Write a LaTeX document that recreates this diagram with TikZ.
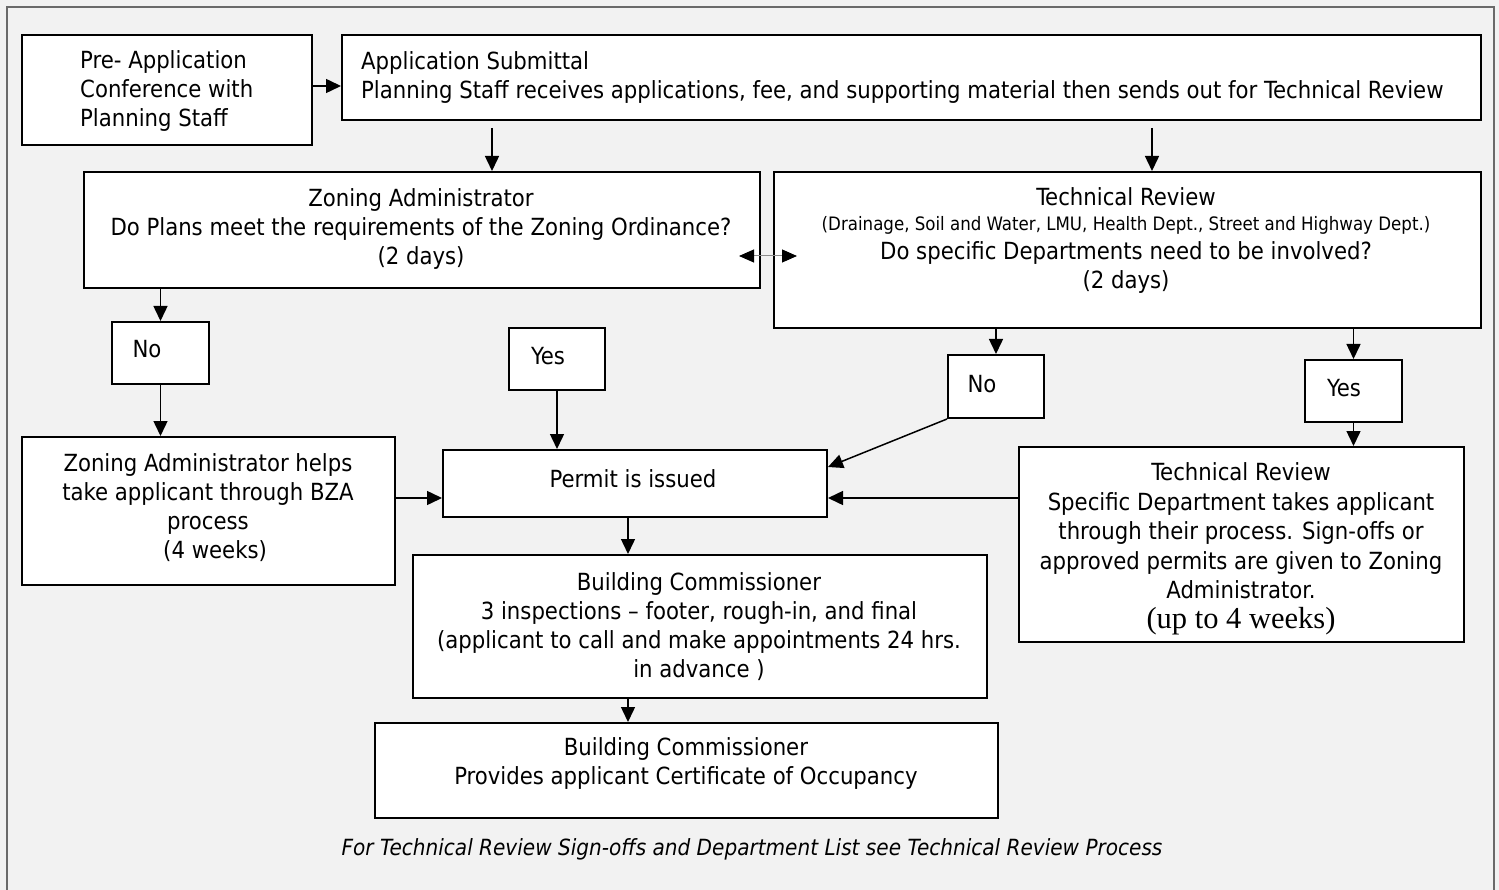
\documentclass[tikz,border=0pt]{standalone}
\usepackage{fontspec}
\setmainfont{DejaVuSansCondensed}[Extension=.ttf, ItalicFont=DejaVuSansCondensed-Oblique, BoldFont=DejaVuSansCondensed-Bold]
\newfontfamily\timesfont{Liberation Serif}
\usetikzlibrary{arrows.meta}
\definecolor{pagebg}{HTML}{F2F2F2}
\definecolor{framegray}{HTML}{6A6A6A}

% box given by its corners: name, x1, y1, x2, y2
\newcommand\flowbox[5]{\node[box, minimum width={#4-#2}, minimum height={#5-#3}] (#1) at (#2,#3) {};}

\begin{document}
\begin{tikzpicture}[x=1pt, y=-1pt,
  box/.style={draw, line width=2pt, fill=white, inner sep=0pt, anchor=north west},
  txt/.style={inner sep=0pt, font=\fontsize{23.6}{29}\selectfont},
  arr/.style={line width=1.5pt, -{Triangle[length=15pt,width=14pt]}},
  twoway/.style={line width=1pt, draw=black!45,
    {Triangle[length=15pt,width=13pt,color=black]}-{Triangle[length=15pt,width=13pt,color=black]}},
]
\useasboundingbox (0,0) rectangle (1499,890);
\fill[pagebg] (0,0) rectangle (1499,890);
\draw[framegray, line width=2.5pt] (7,895) -- (7,7) -- (1494,7) -- (1494,895);

% boxes
\flowbox{pre}{21}{34}{311}{144}
\flowbox{app}{341}{34}{1480}{119}
\flowbox{za}{83}{171}{759}{287}
\flowbox{tr}{773}{171}{1480}{327}
\flowbox{no1}{111}{321}{208}{383}
\flowbox{yes1}{508}{327}{604}{389}
\flowbox{no2}{947}{354}{1043}{417}
\flowbox{yes2}{1304}{359}{1401}{421}
\flowbox{bza}{21}{436}{394}{584}
\flowbox{permit}{442}{449}{826}{516}
\flowbox{tr2}{1018}{446}{1463}{641}
\flowbox{bc1}{412}{554}{986}{697}
\flowbox{bc2}{374}{722}{997}{817}

% texts
\node[txt, align=left, anchor=west] (pre-t) at (80,91) {Pre- Application\\Conference with\\Planning Staff};
\node[txt, align=left, anchor=west] (app-t) at (361,77) {Application Submittal\\Planning Staff receives applications, fee, and supporting material then sends out for Technical Review};
\node[txt, align=center] (za-t) at (421,229) {Zoning Administrator\\Do Plans meet the requirements of the Zoning Ordinance?\\(2 days)};
\node[txt, align=center] (tr-t) at (1126,240) {Technical Review\\[-4pt]{\fontsize{18.5}{22}\selectfont (Drainage, Soil and Water, LMU, Health Dept., Street and Highway Dept.)}\\Do specific Departments need to be involved?\\(2 days)};
\node[txt] (no1-t) at (147,349) {No};
\node[txt] (yes1-t) at (548,356) {Yes};
\node[txt] (no2-t) at (982,384) {No};
\node[txt] (yes2-t) at (1344,388) {Yes};
\node[txt, align=center] (bza-t) at (208,508) {Zoning Administrator helps\\take applicant through BZA\\process\\\hspace*{0.6em}(4 weeks)};
\node[txt] (permit-t) at (633,479) {Permit is issued};
\node[txt, align=center] (tr2-t) at (1241,549) {Technical Review\\[0.4pt]Specific Department takes applicant\\[0.4pt]through their process. Sign-offs or\\[0.4pt]approved permits are given to Zoning\\[0.4pt]Administrator.\\[1pt]{\timesfont\fontsize{30.5}{31}\selectfont (up to 4 weeks)}};
\node[txt, align=center] (bc1-t) at (699,627) {Building Commissioner\\3 inspections -- footer, rough-in, and final\\(applicant to call and make appointments 24 hrs.\\in advance )};
\node[txt, align=center] (bc2-t) at (686,763) {Building Commissioner\\Provides applicant Certificate of Occupancy};
\node[txt, font=\fontsize{22.3}{27}\selectfont\itshape] (note) at (752,849) {For Technical Review Sign-offs and Department List see Technical Review Process};

% connectors
\draw[arr] (pre.east |- 0,86) -- (app.west |- 0,86);
\draw[arr, shorten <=7pt] (app.south -| 492,0) -- (za.north -| 492,0);
\draw[arr, shorten <=7pt] (app.south -| 1152,0) -- (tr.north -| 1152,0);
\coordinate (dl) at (739,256);
\coordinate (dr) at (797,256);
\draw[twoway] (dl) -- (dr);
\draw[arr] (za.south -| no1.north) -- (no1.north);
\draw[arr] (no1.south) -- (bza.north -| no1.south);
\draw[arr] (yes1.south) -- (permit.north -| yes1.south);
\draw[arr] (tr.south -| no2.north) -- (no2.north);
\draw[arr] (tr.south -| yes2.north) -- (yes2.north);
\draw[arr] (yes2.south) -- (tr2.north -| yes2.south);
\draw[arr] (no2.south west) -- (permit.east |- 0,467);
\draw[arr] (bza.east |- 0,498) -- (permit.west |- 0,498);
\draw[arr] (tr2.west |- 0,498) -- (permit.east |- 0,498);
\draw[arr] (permit.south -| 628,0) -- (bc1.north -| 628,0);
\draw[arr] (bc1.south -| 628,0) -- (bc2.north -| 628,0);
\end{tikzpicture}
\end{document}
